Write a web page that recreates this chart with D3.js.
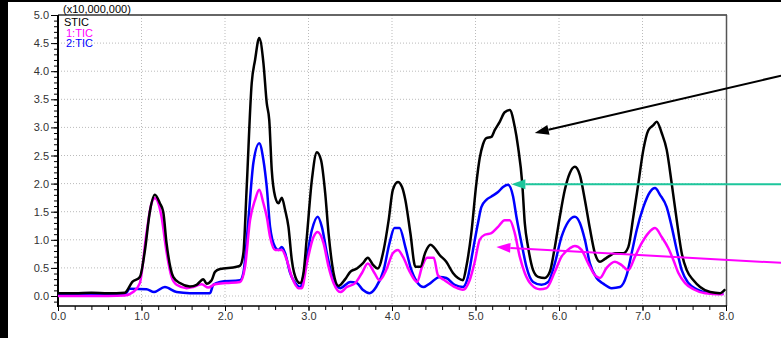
<!DOCTYPE html>
<html lang="en">
<head>
<meta charset="utf-8">
<title>TIC overlay</title>
<script src="https://cdn.jsdelivr.net/npm/d3@7"></script>
<style>
  body { margin: 0; background: #fff; }
  svg { display: block; font-family: "Liberation Sans", Arial, sans-serif; }
  .grid line { stroke: #bbb; stroke-width: 1; stroke-dasharray: 1, 2; }
  .tick text { font-size: 11px; fill: #333; }
  .trace { fill: none; stroke-width: 2.5; stroke-linejoin: round; }
  .legend { font-size: 11px; }
</style>
</head>
<body>
<script>
// retention time (min) vs intensity (x10,000,000)
var stic = [[0,0.05],[0.2,0.05],[0.4,0.06],[0.6,0.05],[0.8,0.06],[0.89,0.25],[0.98,0.34],[1.04,0.8],[1.1,1.5],[1.16,1.80],[1.22,1.65],[1.26,1.5],[1.30,0.94],[1.38,0.34],[1.46,0.23],[1.58,0.17],[1.66,0.2],[1.74,0.30],[1.78,0.22],[1.84,0.28],[1.88,0.43],[1.94,0.48],[2.14,0.52],[2.18,0.54],[2.22,0.76],[2.26,1.94],[2.32,3.79],[2.36,4.2],[2.41,4.59],[2.46,4.15],[2.50,3.43],[2.53,3.13],[2.56,2.24],[2.60,1.77],[2.64,1.65],[2.68,1.75],[2.72,1.53],[2.76,1.23],[2.80,0.64],[2.86,0.28],[2.90,0.23],[2.94,0.41],[2.98,1.05],[3.04,2.06],[3.10,2.56],[3.15,2.42],[3.20,1.83],[3.24,1.12],[3.30,0.41],[3.36,0.18],[3.44,0.30],[3.50,0.43],[3.58,0.49],[3.65,0.58],[3.71,0.68],[3.77,0.56],[3.83,0.49],[3.90,0.82],[3.96,1.35],[4.01,1.89],[4.07,2.03],[4.12,1.94],[4.16,1.71],[4.22,1.12],[4.28,0.52],[4.34,0.52],[4.40,0.78],[4.46,0.91],[4.50,0.87],[4.57,0.73],[4.65,0.61],[4.73,0.41],[4.79,0.32],[4.85,0.28],[4.89,0.52],[4.95,1.12],[5.01,2.0],[5.05,2.45],[5.09,2.7],[5.13,2.81],[5.19,2.83],[5.23,2.95],[5.29,3.1],[5.35,3.27],[5.41,3.31],[5.47,3.01],[5.51,2.65],[5.56,2.0],[5.59,1.3],[5.63,0.87],[5.69,0.46],[5.75,0.34],[5.83,0.32],[5.89,0.43],[5.95,0.87],[6.01,1.41],[6.07,1.89],[6.13,2.19],[6.19,2.3],[6.25,2.15],[6.31,1.71],[6.37,1.2],[6.43,0.76],[6.49,0.61],[6.55,0.66],[6.61,0.72],[6.67,0.76],[6.77,0.76],[6.83,0.87],[6.89,1.41],[6.95,2.0],[7.01,2.6],[7.07,2.95],[7.13,3.04],[7.17,3.1],[7.23,2.9],[7.29,2.6],[7.35,2.0],[7.41,1.35],[7.47,0.76],[7.53,0.46],[7.61,0.28],[7.69,0.16],[7.81,0.07],[7.93,0.05],[7.99,0.12]];

var tic1 = [[0,0.0],[0.4,0.0],[0.8,0.01],[0.9,0.07],[0.98,0.23],[1.06,1.12],[1.12,1.65],[1.16,1.74],[1.24,1.41],[1.30,0.78],[1.36,0.34],[1.42,0.2],[1.54,0.14],[1.62,0.16],[1.72,0.21],[1.80,0.15],[1.88,0.21],[2.02,0.23],[2.18,0.25],[2.24,0.52],[2.30,1.35],[2.36,1.71],[2.41,1.89],[2.46,1.65],[2.50,1.41],[2.54,1.05],[2.60,0.82],[2.68,0.82],[2.74,0.64],[2.80,0.34],[2.88,0.14],[2.92,0.14],[2.98,0.58],[3.06,1.05],[3.11,1.14],[3.18,0.94],[3.24,0.52],[3.30,0.23],[3.38,0.07],[3.46,0.16],[3.56,0.23],[3.64,0.41],[3.71,0.58],[3.79,0.41],[3.85,0.28],[3.93,0.46],[4.01,0.76],[4.07,0.82],[4.13,0.7],[4.22,0.41],[4.30,0.25],[4.36,0.52],[4.42,0.68],[4.50,0.68],[4.55,0.37],[4.63,0.28],[4.75,0.16],[4.85,0.11],[4.93,0.28],[4.99,0.6],[5.05,1.0],[5.11,1.09],[5.19,1.12],[5.27,1.23],[5.35,1.35],[5.41,1.35],[5.47,1.12],[5.53,0.7],[5.59,0.41],[5.67,0.2],[5.77,0.12],[5.85,0.14],[5.95,0.43],[6.03,0.7],[6.13,0.85],[6.19,0.89],[6.27,0.82],[6.35,0.58],[6.43,0.37],[6.49,0.32],[6.57,0.5],[6.67,0.61],[6.75,0.55],[6.83,0.46],[6.91,0.7],[6.99,0.94],[7.07,1.12],[7.15,1.21],[7.23,1.05],[7.31,0.85],[7.37,0.64],[7.43,0.41],[7.51,0.23],[7.61,0.12],[7.75,0.05],[7.97,0.03]];

var tic2 = [[0,0.02],[0.4,0.02],[0.8,0.03],[0.86,0.13],[1.06,0.12],[1.15,0.07],[1.28,0.16],[1.42,0.07],[1.58,0.05],[1.82,0.05],[1.86,0.2],[1.94,0.25],[2.18,0.28],[2.22,0.41],[2.28,1.35],[2.34,2.37],[2.41,2.72],[2.46,2.42],[2.50,1.94],[2.54,1.23],[2.60,0.87],[2.64,0.82],[2.68,0.87],[2.72,0.76],[2.78,0.41],[2.86,0.2],[2.90,0.16],[2.96,0.52],[3.04,1.17],[3.11,1.41],[3.16,1.23],[3.22,0.76],[3.30,0.28],[3.38,0.14],[3.50,0.25],[3.58,0.23],[3.65,0.11],[3.73,0.05],[3.81,0.16],[3.90,0.46],[3.97,0.94],[4.03,1.21],[4.09,1.21],[4.16,0.87],[4.22,0.52],[4.30,0.25],[4.38,0.16],[4.46,0.23],[4.57,0.34],[4.65,0.32],[4.75,0.2],[4.85,0.16],[4.91,0.34],[4.97,0.82],[5.03,1.3],[5.07,1.58],[5.13,1.71],[5.19,1.77],[5.27,1.85],[5.33,1.94],[5.39,1.98],[5.45,1.77],[5.49,1.41],[5.56,0.87],[5.61,0.52],[5.69,0.25],[5.79,0.2],[5.87,0.25],[5.95,0.58],[6.03,1.05],[6.11,1.32],[6.19,1.41],[6.25,1.3],[6.31,1.0],[6.37,0.58],[6.45,0.32],[6.53,0.22],[6.63,0.14],[6.73,0.16],[6.81,0.37],[6.87,0.76],[6.93,1.17],[7.01,1.58],[7.09,1.85],[7.15,1.92],[7.21,1.8],[7.29,1.58],[7.35,1.23],[7.41,0.82],[7.47,0.46],[7.55,0.23],[7.65,0.12],[7.81,0.05],[7.97,0.04]];

var legendLabels = ["STIC", "1:TIC", "2:TIC"];
var xTicks = [0, 1, 2, 3, 4, 5, 6, 7, 8];
var yTicks = [0, 0.5, 1, 1.5, 2, 2.5, 3, 3.5, 4, 4.5, 5];

// annotation arrows: [tail t, tail v, tip t, tip v]
var arrows = [
  [8.66, 3.92, 5.71, 2.90],
  [8.66, 1.99, 5.43, 1.99],
  [8.66, 0.59, 5.25, 0.87]
];
var arrowColors = ["#000", "#1dc69c", "#ff00ff"];

var w = 781, h = 338;
var padLeft = 58, padRight = 726, padTop = 15, axisY = 306, zeroY = 296;

var svg = d3.select("body").append("svg")
  .attr("width", w).attr("height", h);

svg.append("rect").attr("width", w).attr("height", h).attr("fill", "#fff");
// dark edges from the original screen grab
svg.append("rect").attr("x", 0).attr("y", 0).attr("width", 8).attr("height", h).attr("fill", "#000");
svg.append("rect").attr("x", 0).attr("y", 0).attr("width", w).attr("height", 2).attr("fill", "#000");

var x = d3.scaleLinear().domain([0, 8]).range([padLeft, padRight]);
var y = d3.scaleLinear().domain([0, 5]).range([zeroY, padTop]);

// grid
var grid = svg.append("g").attr("class", "grid");
grid.selectAll(".gy").data(yTicks.slice(0, -1)).enter().append("line")
  .attr("x1", padLeft).attr("x2", padRight)
  .attr("y1", function(d) { return y(d); }).attr("y2", function(d) { return y(d); });
grid.selectAll(".gx").data(xTicks.slice(1, -1)).enter().append("line")
  .attr("y1", padTop).attr("y2", axisY)
  .attr("x1", function(d) { return x(d); }).attr("x2", function(d) { return x(d); });

// frame top and right
svg.append("line").attr("x1", padLeft).attr("x2", padRight + 1).attr("y1", padTop).attr("y2", padTop)
  .attr("stroke", "#333").attr("stroke-width", 1.5);
svg.append("line").attr("x1", padRight + 0.5).attr("x2", padRight + 0.5).attr("y1", padTop).attr("y2", axisY)
  .attr("stroke", "#555").attr("stroke-width", 1.5);

// y axis: minor ticks every 0.1, labels every 0.5
svg.append("g")
  .attr("transform", "translate(" + padLeft + ",0)")
  .call(d3.axisLeft(y).tickValues(d3.range(-1, 51).map(function(i) { return i / 10; }))
    .tickSize(4).tickFormat(""))
  .call(function(g) { g.select(".domain").remove(); g.selectAll("line").attr("stroke", "#000"); });
svg.append("g")
  .attr("transform", "translate(" + padLeft + ",0)")
  .call(d3.axisLeft(y).tickValues(yTicks).tickSize(7).tickPadding(2).tickFormat(d3.format(".1f")))
  .call(function(g) {
    g.select(".domain").remove();
    g.selectAll("line").attr("stroke", "#000");
  });
svg.append("line").attr("x1", padLeft).attr("x2", padLeft).attr("y1", padTop).attr("y2", axisY + 1)
  .attr("stroke", "#000").attr("stroke-width", 2);

// x axis: minor ticks every 0.2, labels every 1.0
svg.append("g")
  .attr("transform", "translate(0," + axisY + ")")
  .call(d3.axisBottom(x).tickValues(d3.range(0, 41).map(function(i) { return i / 5; }))
    .tickSize(4).tickFormat(""))
  .call(function(g) { g.select(".domain").remove(); g.selectAll("line").attr("stroke", "#000"); });
svg.append("g")
  .attr("transform", "translate(0," + axisY + ")")
  .call(d3.axisBottom(x).tickValues(xTicks).tickSize(5).tickPadding(1).tickFormat(d3.format(".1f")))
  .call(function(g) {
    g.select(".domain").remove();
    g.selectAll("line").attr("stroke", "#000");
  });
svg.append("line").attr("x1", padLeft - 1).attr("x2", padRight + 1).attr("y1", axisY).attr("y2", axisY)
  .attr("stroke", "#000").attr("stroke-width", 1.5);

// traces
var line = d3.line()
  .x(function(d) { return x(d[0]); })
  .y(function(d) { return y(d[1]); })
  .curve(d3.curveMonotoneX);

svg.append("path").datum(tic2).attr("class", "trace").attr("stroke", "#0000ff").attr("d", line);
svg.append("path").datum(tic1).attr("class", "trace").attr("stroke", "#ff00ff").attr("d", line);
svg.append("path").datum(stic).attr("class", "trace").attr("stroke", "#000").attr("d", line);

// legend
svg.append("text").attr("class", "legend").attr("x", 63).attr("y", 13).text("(x10,000,000)");
var legendColors = ["#000", "#ff00ff", "#0000ff"];
svg.selectAll(".lg").data(legendLabels).enter().append("text")
  .attr("class", "legend")
  .attr("x", function(d, i) { return i === 0 ? 64 : 66; })
  .attr("y", function(d, i) { return 26 + i * 10.5; })
  .attr("fill", function(d, i) { return legendColors[i]; })
  .text(function(d) { return d; });

// arrows
arrows.forEach(function(a, i) {
  var x1 = x(a[0]), y1 = y(a[1]), x2 = x(a[2]), y2 = y(a[3]);
  var ang = Math.atan2(y2 - y1, x2 - x1);
  var len = 14, half = 5;
  var bx = x2 - len * Math.cos(ang), by = y2 - len * Math.sin(ang);
  svg.append("line")
    .attr("x1", x1).attr("y1", y1).attr("x2", bx).attr("y2", by)
    .attr("stroke", arrowColors[i]).attr("stroke-width", 2);
  svg.append("path")
    .attr("d", "M" + x2 + "," + y2 +
      "L" + (bx + half * Math.sin(ang)) + "," + (by - half * Math.cos(ang)) +
      "L" + (bx - half * Math.sin(ang)) + "," + (by + half * Math.cos(ang)) + "Z")
    .attr("fill", arrowColors[i]);
});
</script>
</body>
</html>
